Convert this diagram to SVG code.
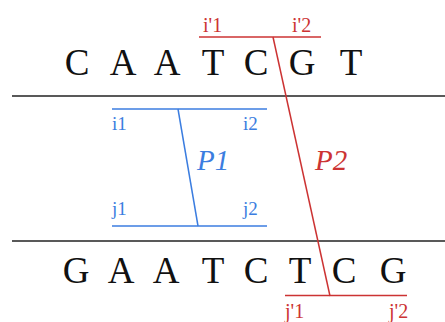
<svg xmlns="http://www.w3.org/2000/svg" width="445" height="322" viewBox="0 0 445 322">
<style>
.red{stroke:#cc3333;stroke-width:1.5;fill:none}
.blue{stroke:#3b7de0;stroke-width:1.5;fill:none}
.strand{stroke:#222;stroke-width:1.5}
</style>
<rect width="445" height="322" fill="#fff"/>
<g id="strand-top">
<line class="strand" x1="12" y1="96" x2="445" y2="96"/>
<text font-family="Liberation Serif" font-size="37" fill="#111" text-anchor="middle" y="75"><tspan x="77">C</tspan><tspan x="123">A</tspan><tspan x="167">A</tspan><tspan x="213">T</tspan><tspan x="256">C</tspan><tspan x="302">G</tspan><tspan x="351">T</tspan></text>
</g>
<g id="strand-bottom">
<line class="strand" x1="12" y1="241" x2="445" y2="241"/>
<text font-family="Liberation Serif" font-size="37" fill="#111" text-anchor="middle" y="283"><tspan x="76">G</tspan><tspan x="121">A</tspan><tspan x="166">A</tspan><tspan x="213">T</tspan><tspan x="256">C</tspan><tspan x="300">T</tspan><tspan x="344">C</tspan><tspan x="393">G</tspan></text>
</g>
<g id="P1" font-family="Liberation Serif" fill="#3b7de0">
<line class="blue" x1="112" y1="109" x2="267" y2="109"/>
<line class="blue" x1="112" y1="226" x2="267" y2="226"/>
<line class="blue" x1="178" y1="109" x2="198" y2="226"/>
<text font-size="19" x="112" y="130">i1</text>
<text font-size="19" x="243" y="130">i2</text>
<text font-size="19" x="112" y="215">j1</text>
<text font-size="19" x="243" y="215">j2</text>
<text font-size="29" font-style="italic" x="197" y="170">P1</text>
</g>
<g id="P2" font-family="Liberation Serif" fill="#cc3333">
<line class="red" x1="199" y1="37" x2="321" y2="37"/>
<line class="red" x1="285" y1="295.5" x2="407" y2="295.5"/>
<line class="red" x1="273" y1="37" x2="330" y2="296"/>
<text font-size="20" x="203" y="32">i'1</text>
<text font-size="20" x="292" y="32">i'2</text>
<text font-size="20" x="285" y="318">j'1</text>
<text font-size="20" x="389" y="318">j'2</text>
<text font-size="29" font-style="italic" x="315" y="170">P2</text>
</g>
</svg>
